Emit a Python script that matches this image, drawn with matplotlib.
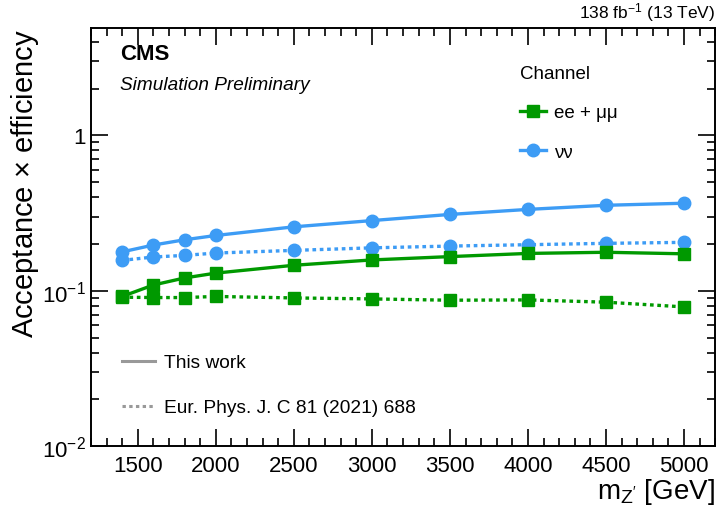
import math

import matplotlib
matplotlib.use("Agg")
from matplotlib import pyplot as plt
from matplotlib.lines import Line2D
from matplotlib.ticker import FixedLocator, FuncFormatter, MultipleLocator, LogLocator

plt.rcParams["font.family"] = ["Liberation Sans", "DejaVu Sans"]
plt.rcParams["mathtext.fontset"] = "custom"
plt.rcParams["mathtext.rm"] = "Liberation Sans"
plt.rcParams["mathtext.it"] = "Liberation Sans:italic"
plt.rcParams["mathtext.bf"] = "Liberation Sans:bold"

# Z' mass points [GeV]
mass = [1400, 1600, 1800, 2000, 2500, 3000, 3500, 4000, 4500, 5000]

# acceptance x efficiency
ll_new = [0.092, 0.109, 0.121, 0.130, 0.146, 0.158, 0.166, 0.174, 0.177, 0.173]
ll_old = [0.091, 0.0905, 0.0905, 0.092, 0.090, 0.0887, 0.087, 0.0874, 0.0845, 0.0788]
nn_new = [0.178, 0.197, 0.213, 0.227, 0.258, 0.283, 0.310, 0.334, 0.355, 0.366]
nn_old = [0.157, 0.165, 0.169, 0.175, 0.182, 0.189, 0.194, 0.198, 0.202, 0.205]

green = "#009900"
blue = "#3d9cf5"
dotted = (0, (1.1, 1.1))

fig = plt.figure(figsize=(7.16, 5.10), dpi=100)
ax = fig.add_axes([0.127, 0.123, 0.872, 0.820])

ax.plot(mass, ll_old, color=green, ls=dotted, lw=2.4, marker="s", ms=9)
ax.plot(mass, nn_old, color=blue, ls=dotted, lw=2.4, marker="o", ms=9)
ax.plot(mass, ll_new, color=green, ls="-", lw=2.4, marker="s", ms=9)
ax.plot(mass, nn_new, color=blue, ls="-", lw=2.4, marker="o", ms=9)

ax.set_yscale("log")
ax.set_xlim(1200, 5200)
ax.set_ylim(0.01, 4.9)

ax.xaxis.set_major_locator(MultipleLocator(500))
ax.xaxis.set_minor_locator(MultipleLocator(100))
ax.yaxis.set_major_locator(FixedLocator([0.01, 0.1, 1]))
ax.yaxis.set_minor_locator(LogLocator(base=10, subs=range(2, 10)))
ax.yaxis.set_minor_formatter(FuncFormatter(lambda v, p: ""))
ax.yaxis.set_major_formatter(FuncFormatter(
    lambda v, p: "1" if abs(v - 1) < 1e-6 else r"$10^{%d}$" % round(math.log10(v))))

ax.tick_params(which="both", direction="in", top=True, right=True, labelsize=16, width=1.2)
ax.tick_params(which="major", length=12)
ax.tick_params(which="minor", length=6)
ax.tick_params(axis="x", pad=6)
for s in ax.spines.values():
    s.set_linewidth(1.4)

ax.set_xlabel(r"m$_{\mathrm{Z}^{\prime}}$ [GeV]", loc="right", fontsize=20, labelpad=0)
ax.set_ylabel(r"Acceptance $\times$ efficiency", loc="top", fontsize=21, labelpad=1)

ax.text(0.046, 0.965, "CMS", transform=ax.transAxes, fontsize=16, fontweight="bold", va="top")
ax.text(0.046, 0.885, "Simulation Preliminary", transform=ax.transAxes, fontsize=13.7,
        style="italic", va="top")
ax.text(1.0, 1.012, r"138 fb$^{-1}$ (13 TeV)", transform=ax.transAxes, fontsize=12.5,
        ha="right", va="bottom")

chan_handles = [
    Line2D([], [], color=green, lw=2.4, marker="s", ms=9),
    Line2D([], [], color=blue, lw=2.4, marker="o", ms=9),
]
leg1 = ax.legend(chan_handles, ["ee + μμ", "νν"], title="Channel", title_fontsize=13.5,
                 fontsize=13.5, frameon=False, loc="upper left", bbox_to_anchor=(0.66, 0.952),
                 handlelength=1.4, handletextpad=0.4, labelspacing=1.18, alignment="left")
ax.add_artist(leg1)

ref_handles = [
    Line2D([], [], color="#999999", lw=2.2, ls="-"),
    Line2D([], [], color="#999999", lw=2.2, ls=dotted),
]
ax.legend(ref_handles, ["This work", "Eur. Phys. J. C 81 (2021) 688"], fontsize=13.8,
          frameon=False, loc="lower left", bbox_to_anchor=(0.022, 0.03),
          handlelength=1.7, handletextpad=0.5, labelspacing=1.45)

fig.savefig("out.png", dpi=100)
